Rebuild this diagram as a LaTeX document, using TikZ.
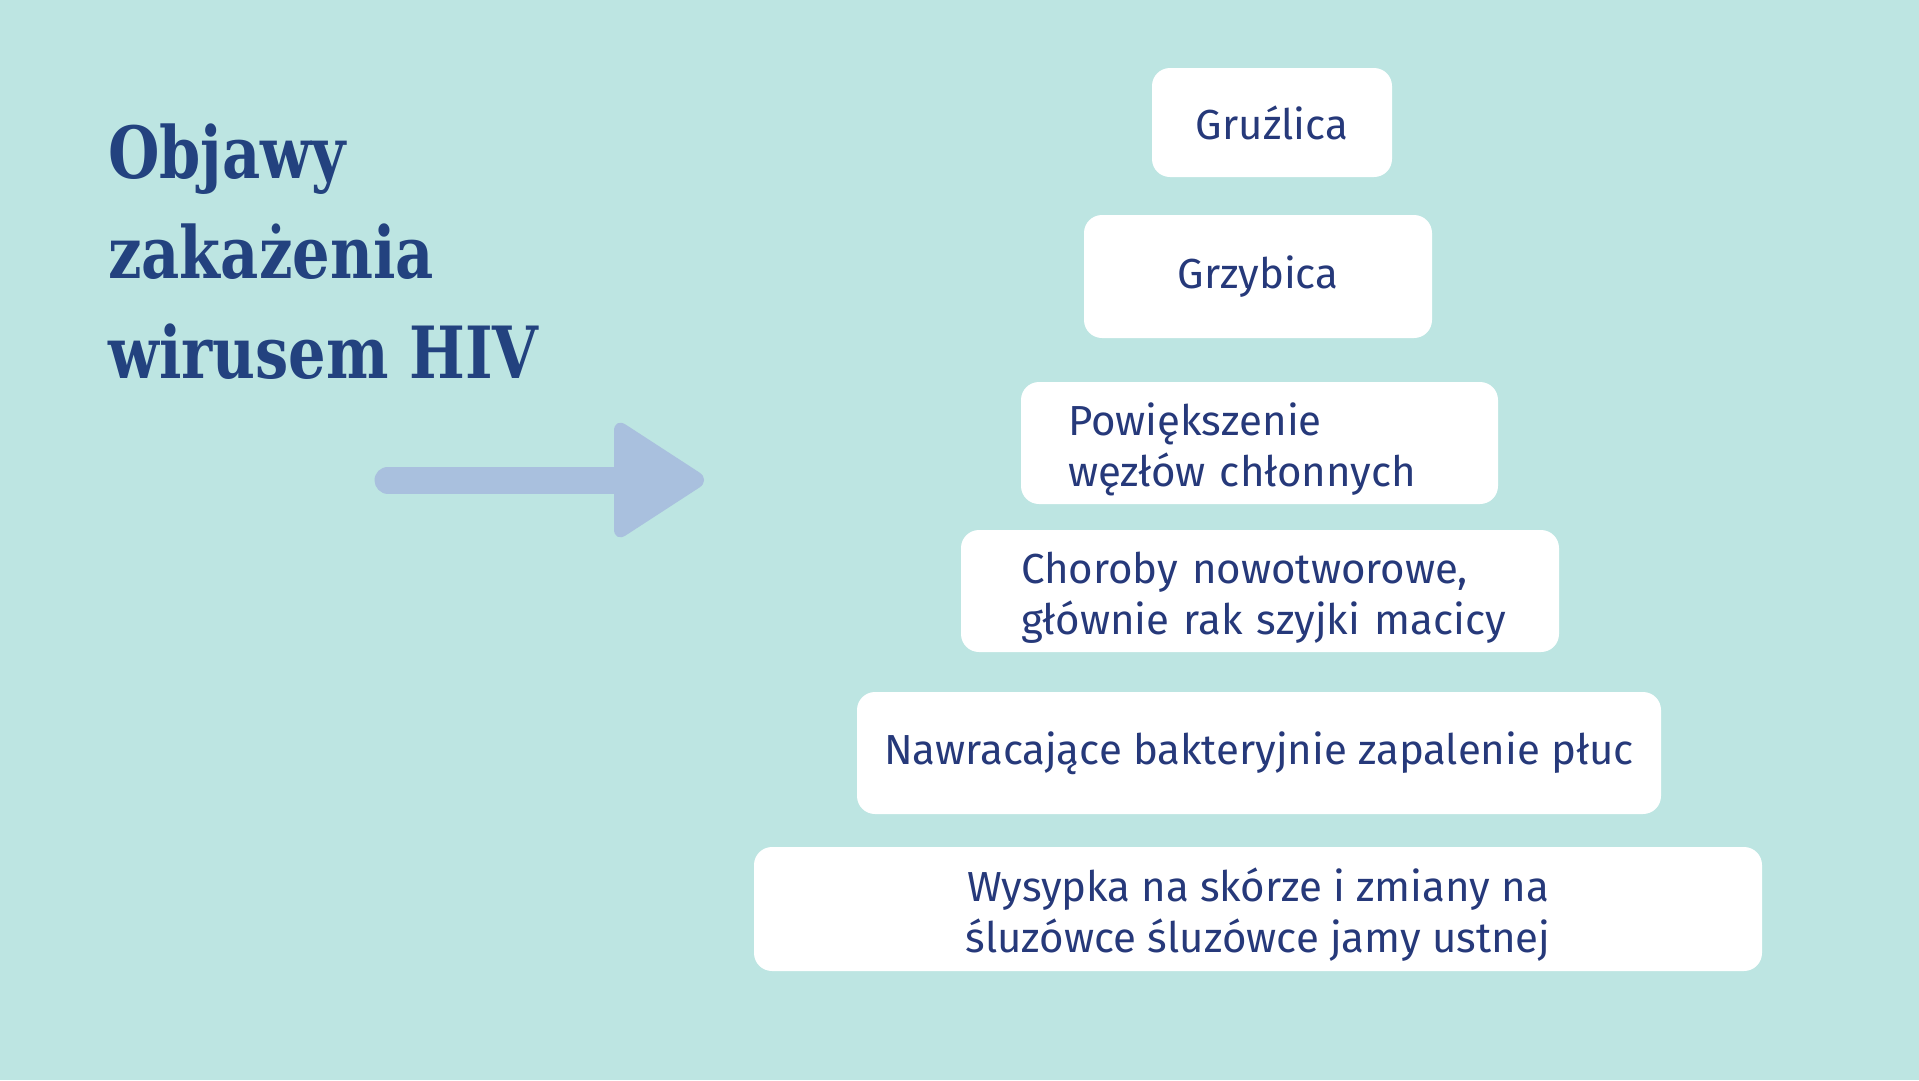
\documentclass[tikz,border=0pt]{standalone}
\usepackage{fontspec}
\setmainfont{Fira Sans}
\newfontfamily\titlefont{DejaVu Serif}[FakeStretch=0.82]

\definecolor{bgcol}{HTML}{BDE5E2}
\definecolor{txtcol}{HTML}{26397A}
\definecolor{titlecol}{HTML}{23427F}
\definecolor{arrowcol}{HTML}{A9C0DE}

\newcommand{\topstrut}{\rule{0pt}{45pt}}

\tikzset{
	symptom/.style={fill=white, rounded corners=18pt, text=txtcol, inner sep=0pt,
		font=\fontsize{42}{51}\selectfont, minimum height=122pt},
	twoline/.style={symptom, align=left},
	heading/.style={text=titlecol, inner sep=0pt, align=left,
		font=\titlefont\bfseries\fontsize{72}{100}\selectfont},
}

\begin{document}
\begin{tikzpicture}[x=1pt, y=-1pt]
	\fill[bgcol] (0,0) rectangle (1919,1080);
	\useasboundingbox (0,0) rectangle (1919,1080);

	% title
	\node [heading, anchor=north west] (title) at (108,124) {Objawy\\zakażenia\\wirusem HIV};

	% arrow
	\coordinate (arrstart) at (388,480);
	\coordinate (arrbase) at (640,480);
	\draw [arrowcol, line width=27pt, line cap=round] (arrstart) -- (arrbase);
	\fill [arrowcol, rounded corners=14pt] (614,417) -- (711,480) -- (614,543) -- cycle;

	% symptoms
	\node [symptom, minimum width=240pt, minimum height=109pt] (gruzlica) at (1272,122.5) {Gruźlica};
	\node [symptom, minimum width=348pt, minimum height=123pt] (grzybica) at (1258,276.5) {Grzybica};
	\node [twoline, minimum width=477pt, text width=383pt] (wezly) at (1259.5,443)
		{\topstrut Powiększenie\\węzłów chłonnych};
	\node [twoline, minimum width=598pt, text width=478pt] (nowotwory) at (1260,591)
		{\topstrut Choroby nowotworowe,\\\mbox{głównie rak szyjki macicy}};
	\node [symptom, minimum width=804pt] (pluca) at (1259,753)
		{Nawracające bakteryjnie zapalenie płuc};
	\node [symptom, minimum width=1008pt, minimum height=124pt, align=center] (wysypka) at (1258,909)
		{\topstrut Wysypka na skórze i zmiany na\\śluzówce śluzówce jamy ustnej};
\end{tikzpicture}
\end{document}
